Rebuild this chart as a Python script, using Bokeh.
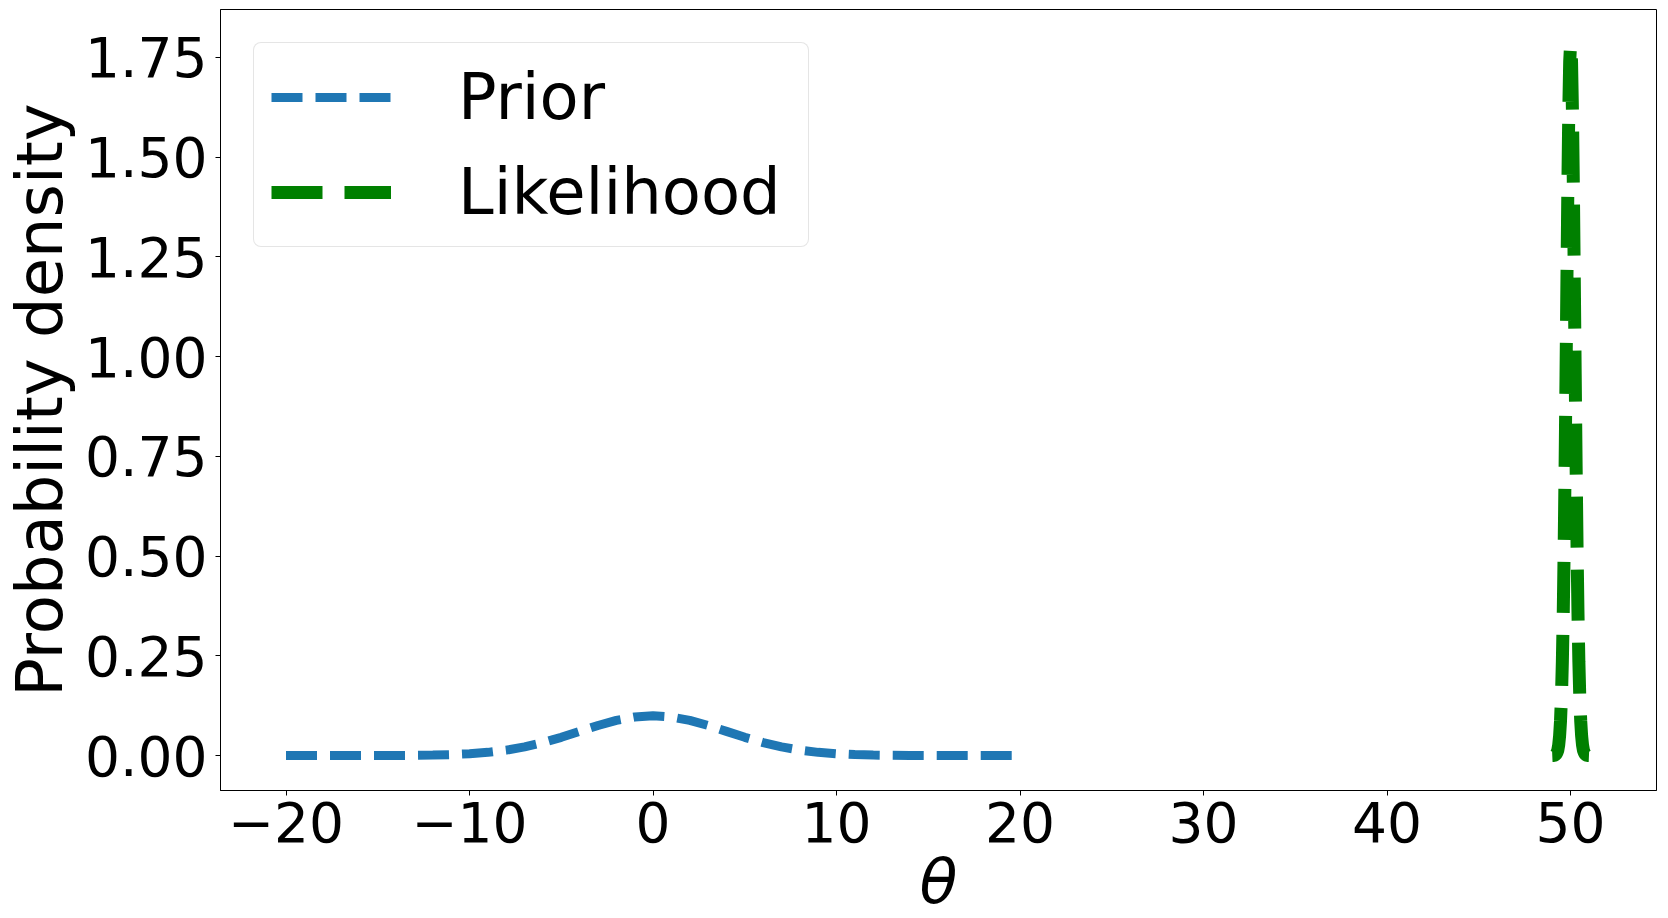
from bokeh.plotting import figure
from bokeh.models import Range1d, FixedTicker, NumeralTickFormatter, Legend, LegendItem
from bokeh.embed import file_html
from bokeh.resources import INLINE

# ---- data ----
prior_theta = [-20, -19, -18, -17, -16, -15, -14, -13, -12, -11, -10, -9, -8, -7, -6, -5, -4, -3, -2, -1,
               0, 1, 2, 3, 4, 5, 6, 7, 8, 9, 10, 11, 12, 13, 14, 15, 16, 17, 18, 19, 20]
prior_density = [0.0, 0.0, 0.0, 0.0, 0.0, 0.0001, 0.0002, 0.0005, 0.0011, 0.0023, 0.0044, 0.0079, 0.0135,
                 0.0216, 0.0324, 0.0456, 0.0605, 0.0753, 0.0880, 0.0966,
                 0.0997,
                 0.0966, 0.0880, 0.0753, 0.0605, 0.0456, 0.0324, 0.0216, 0.0135, 0.0079, 0.0044, 0.0023,
                 0.0011, 0.0005, 0.0002, 0.0001, 0.0, 0.0, 0.0, 0.0, 0.0]

likelihood_theta = [49.00, 49.05, 49.10, 49.15, 49.20, 49.25, 49.30, 49.35, 49.40, 49.45,
                    49.50, 49.55, 49.60, 49.65, 49.70, 49.75, 49.80, 49.85, 49.90, 49.95,
                    50.00,
                    50.05, 50.10, 50.15, 50.20, 50.25, 50.30, 50.35, 50.40, 50.45, 50.50,
                    50.55, 50.60, 50.65, 50.70, 50.75, 50.80, 50.85, 50.90, 50.95, 51.00]
likelihood_density = [0.0001, 0.0002, 0.0005, 0.0013, 0.003, 0.0064, 0.013, 0.026, 0.049, 0.087,
                      0.146, 0.235, 0.360, 0.524, 0.725, 0.955, 1.196, 1.425, 1.614, 1.740,
                      1.784,
                      1.740, 1.614, 1.425, 1.196, 0.955, 0.725, 0.524, 0.360, 0.235, 0.146,
                      0.087, 0.049, 0.026, 0.013, 0.0064, 0.003, 0.0013, 0.0005, 0.0002, 0.0001]

series_labels = ["Prior", "Likelihood"]
x_ticks = [-20, -10, 0, 10, 20, 30, 40, 50]
x_tick_labels = ["\u221220", "\u221210", "0", "10", "20", "30", "40", "50"]
y_ticks = [0.0, 0.25, 0.5, 0.75, 1.0, 1.25, 1.5, 1.75]
x_label = "\u03b8"
y_label = "Probability density"

FONT = "DejaVu Sans"

p = figure(width=1660, height=922, output_backend="svg", toolbar_location=None,
           x_range=Range1d(-23.57, 54.68), y_range=Range1d(-0.0877, 1.870),
           min_border_left=219, min_border_right=4, min_border_top=9, min_border_bottom=132)
p.grid.visible = False
p.outline_line_color = "black"
p.outline_line_width = 1
p.background_fill_color = "white"
p.border_fill_color = "white"

r_prior = p.line(prior_theta, prior_density, line_color="#1f77b4", line_width=9,
                 line_dash="31 13")
r_like = p.line(likelihood_theta, likelihood_density, line_color="#008000", line_width=13,
                line_dash="51 22")

for ax in (p.xaxis[0], p.yaxis[0]):
    ax.axis_line_color = "black"
    ax.major_tick_line_color = "black"
    ax.major_tick_out = 5
    ax.major_tick_in = 0
    ax.minor_tick_out = 0
    ax.minor_tick_in = 0
    ax.major_label_text_font = FONT
    ax.major_label_text_font_size = "55px"
    ax.major_label_text_color = "black"
    ax.axis_label_text_font = FONT
    ax.axis_label_text_color = "black"

p.xaxis[0].ticker = FixedTicker(ticks=x_ticks)
p.xaxis[0].major_label_overrides = {t: s for t, s in zip(x_ticks, x_tick_labels)}
p.xaxis[0].axis_label = x_label
p.xaxis[0].axis_label_text_font_size = "62px"
p.xaxis[0].axis_label_text_font_style = "italic"
p.xaxis[0].major_label_standoff = 6
p.xaxis[0].axis_label_standoff = 0

p.yaxis[0].ticker = FixedTicker(ticks=y_ticks)
p.yaxis[0].formatter = NumeralTickFormatter(format="0.00")
p.yaxis[0].axis_label = y_label
p.yaxis[0].axis_label_text_font_size = "64px"
p.yaxis[0].axis_label_text_font_style = "normal"
p.yaxis[0].major_label_standoff = 8
p.yaxis[0].axis_label_standoff = 5

legend = Legend(items=[LegendItem(label=series_labels[0], renderers=[r_prior]),
                       LegendItem(label=series_labels[1], renderers=[r_like])])
legend.location = "top_left"
legend.margin = 33
legend.padding = 17
legend.spacing = 21
legend.glyph_width = 120
legend.glyph_height = 64
legend.label_height = 64
legend.label_width = 333
legend.label_standoff = 67
legend.label_text_font = FONT
legend.label_text_font_size = "64px"
legend.label_text_color = "black"
legend.border_line_color = "#cccccc"
legend.border_line_width = 1
legend.background_fill_color = "white"
legend.background_fill_alpha = 0.8
if hasattr(legend, "border_radius"):
    legend.border_radius = 8
p.add_layout(legend)

open("out.html", "w").write(file_html(p, INLINE))
